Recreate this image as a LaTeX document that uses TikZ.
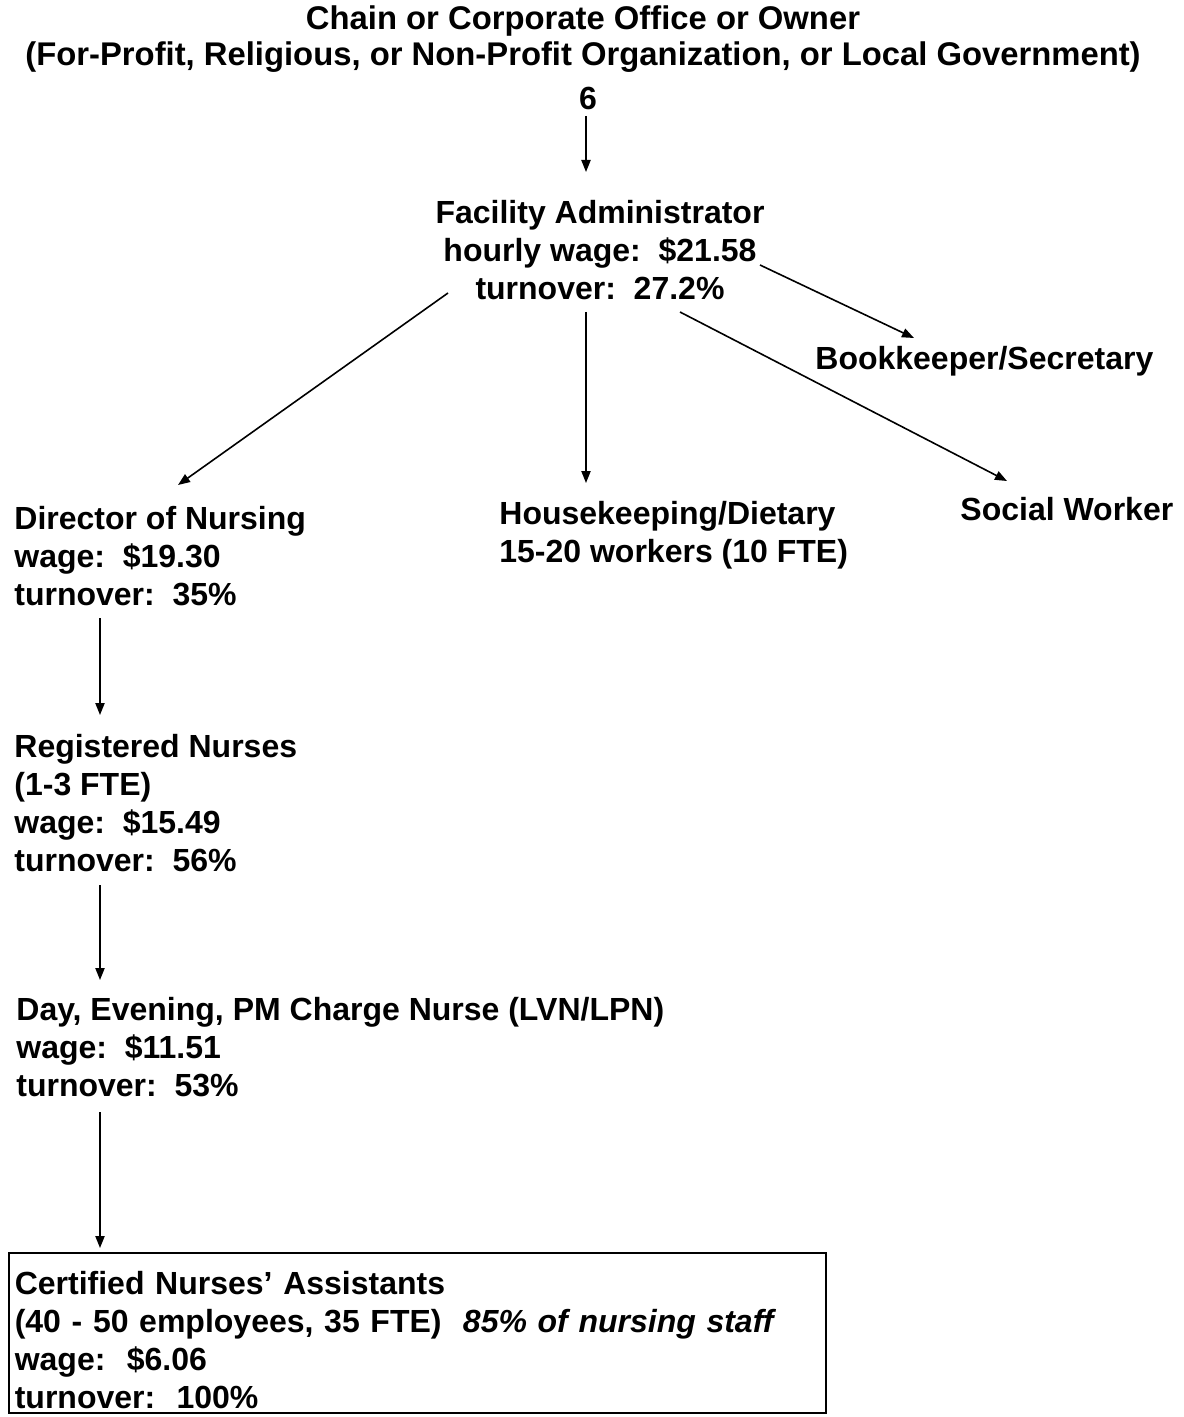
\documentclass[tikz,border=0pt]{standalone}
\usepackage{fontspec}
\setmainfont{Liberation Sans}
\usetikzlibrary{arrows.meta}
\newcommand\twosp{\ \ }
\tikzset{
  lbl/.style={inner sep=0pt, align=left, anchor=north west,
    font=\fontsize{16}{19}\selectfont\bfseries},
  arr/.style={line width=0.8pt, -{Triangle[length=6pt,width=4.6pt]}},
}
\begin{document}
\begin{tikzpicture}[x=0.5pt,y=-0.5pt]
\useasboundingbox (0,0) rectangle (1183,1417);
\fill[white] (0,0) rectangle (1183,1417);
% nodes
\node[lbl, align=center, anchor=north, font=\fontsize{16.4}{18}\selectfont\bfseries] (top) at (583,4)
  {\strut Chain or Corporate Office or Owner\\(For-Profit, Religious, or Non-Profit Organization, or Local Government)};
\node[inner sep=0pt, font=\fontsize{16}{19}\selectfont\bfseries] (six) at (588,98) {6};
\node[lbl, align=center, anchor=north] (fa) at (600,197)
  {\strut Facility Administrator\\hourly wage:\twosp\$21.58\\turnover:\twosp 27.2\%};
\node[lbl] (bk) at (815,342) {\strut Bookkeeper/Secretary};
\node[lbl] (sw) at (960,493) {\strut Social Worker};
\node[lbl] (don) at (14,502) {\strut Director of Nursing\\wage:\twosp\$19.30\\turnover:\twosp 35\%};
\node[lbl] (hk) at (499,497) {\strut Housekeeping/Dietary\\15-20 workers (10 FTE)};
\node[lbl] (rn) at (14,730) {\strut Registered Nurses\\(1-3 FTE)\\wage:\twosp\$15.49\\turnover:\twosp 56\%};
\node[lbl] (cn) at (16,993) {\strut Day, Evening, PM Charge Nurse (LVN/LPN)\\wage:\twosp\$11.51\\turnover:\twosp 53\%};
\node[lbl, draw, line width=0.8pt, inner xsep=3pt, inner ysep=2pt, text width=402.5pt] (cna) at (8,1252)
  {\rule{0pt}{19pt}Certified Nurses' Assistants\\(40 - 50 employees, 35 FTE)\twosp\textit{85\% of nursing staff}\\wage:\twosp\$6.06\\turnover:\twosp 100\%};
% connectors
\draw[arr] ([shift={(-2,18)}]six.center) -- ([shift={(-14,-25)}]fa.north);
\draw[arr] ([shift={(-152,96)}]fa.north) -- ([shift={(164,-17)}]don.north west);
\draw[arr] ([shift={(-14,115)}]fa.north) -- ([shift={(87,-14)}]hk.north west);
\draw[arr] ([shift={(80,115)}]fa.north) -- ([shift={(47,-12)}]sw.north west);
\draw[arr] ([shift={(160,68)}]fa.north) -- ([shift={(99,-4)}]bk.north west);
\draw[arr] ([shift={(86,116)}]don.north west) -- ([shift={(86,-15)}]rn.north west);
\draw[arr] ([shift={(86,155)}]rn.north west) -- ([shift={(84,-13)}]cn.north west);
\draw[arr] ([shift={(84,119)}]cn.north west) -- ([shift={(92,-4)}]cna.north west);
\end{tikzpicture}
\end{document}
